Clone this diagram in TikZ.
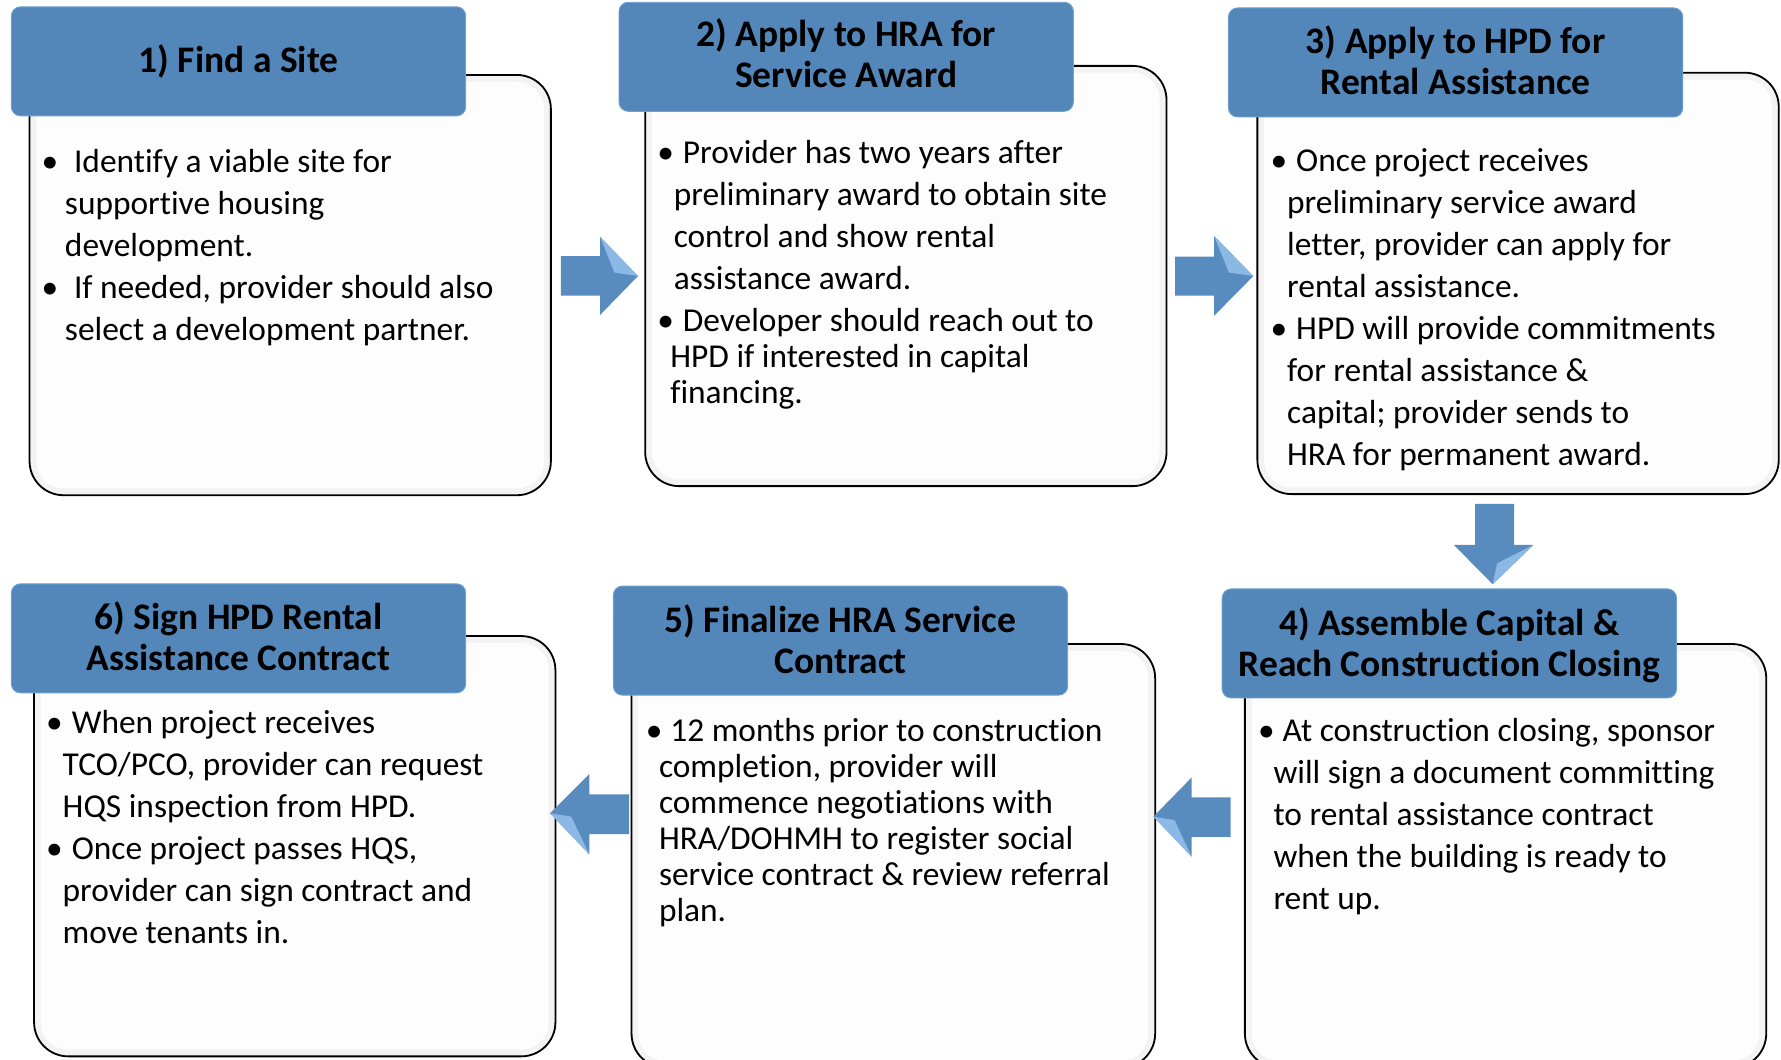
\documentclass[tikz,border=0pt]{standalone}
\usepackage{fontspec}
\setmainfont{Carlito}[Ligatures={NoCommon}]
\usetikzlibrary{calc}
\definecolor{hdrblue}{RGB}{83,135,186}
\definecolor{hdredge}{RGB}{110,160,210}
\definecolor{arrblue}{RGB}{88,139,190}
\definecolor{arrhi}{RGB}{150,193,236}
\definecolor{bodyfill}{RGB}{253,253,253}
\definecolor{bandgray}{RGB}{243,243,243}
\begin{document}
\begin{tikzpicture}[x=1pt,y=-1pt,
  bodybox/.style={draw=black, line width=1.6pt, fill=bandgray, rounded corners=30pt, inner sep=0pt},
  bodyinner/.style={fill=bodyfill, rounded corners=24pt, inner sep=0pt},
  hdrbox/.style={fill=hdrblue, draw=hdredge, line width=0.8pt, rounded corners=8pt, inner sep=0pt,
    minimum width=400pt, minimum height=96pt},
  hdrtext/.style={inner sep=0pt, align=center, font=\fontsize{33}{36}\selectfont\bfseries},
  bulletmark/.style={anchor=base, inner sep=0pt, font=\fontsize{29.4}{37}\selectfont},
  bodytext/.style={anchor=base west, inner sep=0pt, font=\fontsize{29.4}{37}\selectfont},
  tighttext/.style={anchor=base west, inner sep=0pt, font=\fontsize{29.4}{31.7}\selectfont},
  blockarrow/.style={fill=arrblue},
  arrowshine/.style={fill=arrhi, opacity=0.85}
]
\useasboundingbox (0,0) rectangle (1568,933);
\fill[white] (0,0) rectangle (1568,933);
\clip (0,0) rectangle (1568,933);

% ---------- bodies ----------
\node[bodybox, minimum width=459pt, minimum height=370pt] (b1) at (255.5,251) {};
\node[bodyinner, minimum width=447pt, minimum height=358pt] (b1i) at (b1.center) {};
\node[bodybox, minimum width=459pt, minimum height=370pt] (b2) at (797.5,243) {};
\node[bodyinner, minimum width=447pt, minimum height=358pt] (b2i) at (b2.center) {};
\node[bodybox, minimum width=459pt, minimum height=371pt] (b3) at (1336.5,249.5) {};
\node[bodyinner, minimum width=447pt, minimum height=359pt] (b3i) at (b3.center) {};
\node[bodybox, minimum width=459pt, minimum height=370pt] (b6) at (259.5,745) {};
\node[bodyinner, minimum width=447pt, minimum height=358pt] (b6i) at (b6.center) {};
\node[bodybox, minimum width=461pt, minimum height=373pt] (b5) at (786.5,753.5) {};
\node[bodyinner, minimum width=449pt, minimum height=361pt] (b5i) at (b5.center) {};
\node[bodybox, minimum width=459pt, minimum height=373pt] (b4) at (1325.5,753.5) {};
\node[bodyinner, minimum width=447pt, minimum height=361pt] (b4i) at (b4.center) {};

% ---------- headers ----------
\node[hdrbox] (h1) at (210,54) {};
\node[hdrbox] (h2) at (745,50) {};
\node[hdrbox] (h3) at (1281.5,55) {};
\node[hdrbox] (h6) at (210,562) {};
\node[hdrbox] (h5) at (740,564) {};
\node[hdrbox] (h4) at (1276,566.5) {};
\node[hdrtext] (ht1) at (210,54) {1) Find a Site};
\node[hdrtext] (ht2) at (745,47) {2) Apply to HRA for\\Service Award};
\node[hdrtext] (ht3) at (1281.5,53) {3) Apply to HPD for\\Rental Assistance};
\node[hdrtext] (ht6) at (210,560) {6) Sign HPD Rental\\Assistance Contract};
\node[hdrtext] (ht5) at (740,563) {5) Finalize HRA Service\\Contract};
\node[hdrtext] (ht4) at (1276,568) {4) Assemble Capital \&\\Reach Construction Closing};

% ---------- box 1 text ----------
\node[bulletmark] (k1a) at (44,152) {\textbullet};
\node[bodytext] (t1a) at (57,152) {\parbox[t]{440pt}{\raggedright\hspace*{8pt}Identify a viable site for\\supportive housing\\development.}};
\node[bulletmark] (k1b) at (44,263) {\textbullet};
\node[bodytext] (t1b) at (57,263) {\parbox[t]{440pt}{\raggedright\hspace*{8pt}If needed, provider should also\\select a development partner.}};

% ---------- box 2 text ----------
\node[bulletmark] (k2a) at (586,144) {\textbullet};
\node[bodytext] (t2a) at (593,144) {\parbox[t]{440pt}{\raggedright\hspace*{8pt}Provider has two years after\\preliminary award to obtain site\\control and show rental\\assistance award.}};
\node[bulletmark] (k2b) at (586,292) {\textbullet};
\node[tighttext] (t2b) at (590,292) {\parbox[t]{440pt}{\raggedright\hspace*{11pt}Developer should reach out to\\HPD if interested in capital\\financing.}};

% ---------- box 3 text ----------
\node[bulletmark] (k3a) at (1126,151) {\textbullet};
\node[bodytext] (t3a) at (1133,151) {\parbox[t]{440pt}{\raggedright\hspace*{8pt}Once project receives\\preliminary service award\\letter, provider can apply for\\rental assistance.}};
\node[bulletmark] (k3b) at (1126,299) {\textbullet};
\node[bodytext] (t3b) at (1133,299) {\parbox[t]{440pt}{\raggedright\hspace*{8pt}HPD will provide commitments\\for rental assistance \&\\capital; provider sends to\\HRA for permanent award.}};

% ---------- box 6 text ----------
\node[bulletmark] (k6a) at (48,646) {\textbullet};
\node[bodytext] (t6a) at (55,646) {\parbox[t]{440pt}{\raggedright\hspace*{8pt}When project receives\\TCO/PCO, provider can request\\HQS inspection from HPD.}};
\node[bulletmark] (k6b) at (48,757) {\textbullet};
\node[bodytext] (t6b) at (55,757) {\parbox[t]{440pt}{\raggedright\hspace*{8pt}Once project passes HQS,\\provider can sign contract and\\move tenants in.}};

% ---------- box 5 text ----------
\node[bulletmark] (k5a) at (576,653) {\textbullet};
\node[tighttext] (t5a) at (580,653) {\parbox[t]{440pt}{\raggedright\hspace*{10pt}12 months prior to construction\\completion, provider will\\commence negotiations with\\HRA/DOHMH to register social\\service contract \& review referral\\plan.}};

% ---------- box 4 text ----------
\node[bulletmark] (k4a) at (1115,653) {\textbullet};
\node[bodytext] (t4a) at (1121,653) {\parbox[t]{440pt}{\raggedright\hspace*{8pt}At construction closing, sponsor\\will sign a document committing\\to rental assistance contract\\when the building is ready to\\rent up.}};

% ---------- block arrows ----------
% 1 -> 2
\fill[blockarrow] (493.7,225.4) -- (528.3,225.4) -- (528.3,208.4) -- (561.7,243) -- (528.3,277.3) -- (528.3,260.3) -- (493.7,260.3) -- cycle;
\fill[arrowshine] (528.3,208.4) -- (561.7,243) -- (541,240) -- cycle;
% 2 -> 3
\fill[blockarrow] (1034.5,226) -- (1068.9,226) -- (1068.9,207.8) -- (1103.5,243) -- (1068.9,278) -- (1068.9,260.3) -- (1034.5,260.3) -- cycle;
\fill[arrowshine] (1068.9,207.8) -- (1103.5,243) -- (1082,240) -- cycle;
% 3 -> 4
\fill[blockarrow] (1298.6,443.7) -- (1333,443.7) -- (1333,479.8) -- (1350,479.8) -- (1314.2,514.4) -- (1280,479.8) -- (1298.6,479.8) -- cycle;
\fill[arrowshine] (1350,479.8) -- (1314.2,514.4) -- (1318,496) -- cycle;
% 4 -> 5
\fill[blockarrow] (1015.4,719) -- (1049.2,684.4) -- (1049.2,702) -- (1083.5,702) -- (1083.5,736.7) -- (1049.2,736.7) -- (1049.2,754.3) -- cycle;
\fill[arrowshine] (1015.4,719) -- (1049.2,754.3) -- (1034,722) -- cycle;
% 5 -> 6
\fill[blockarrow] (484.2,716) -- (518.8,681.5) -- (518.8,699.4) -- (553.8,699.4) -- (553.8,734.3) -- (518.8,734.3) -- (518.8,752.2) -- cycle;
\fill[arrowshine] (484.2,716) -- (518.8,752.2) -- (503,719) -- cycle;
\end{tikzpicture}
\end{document}
